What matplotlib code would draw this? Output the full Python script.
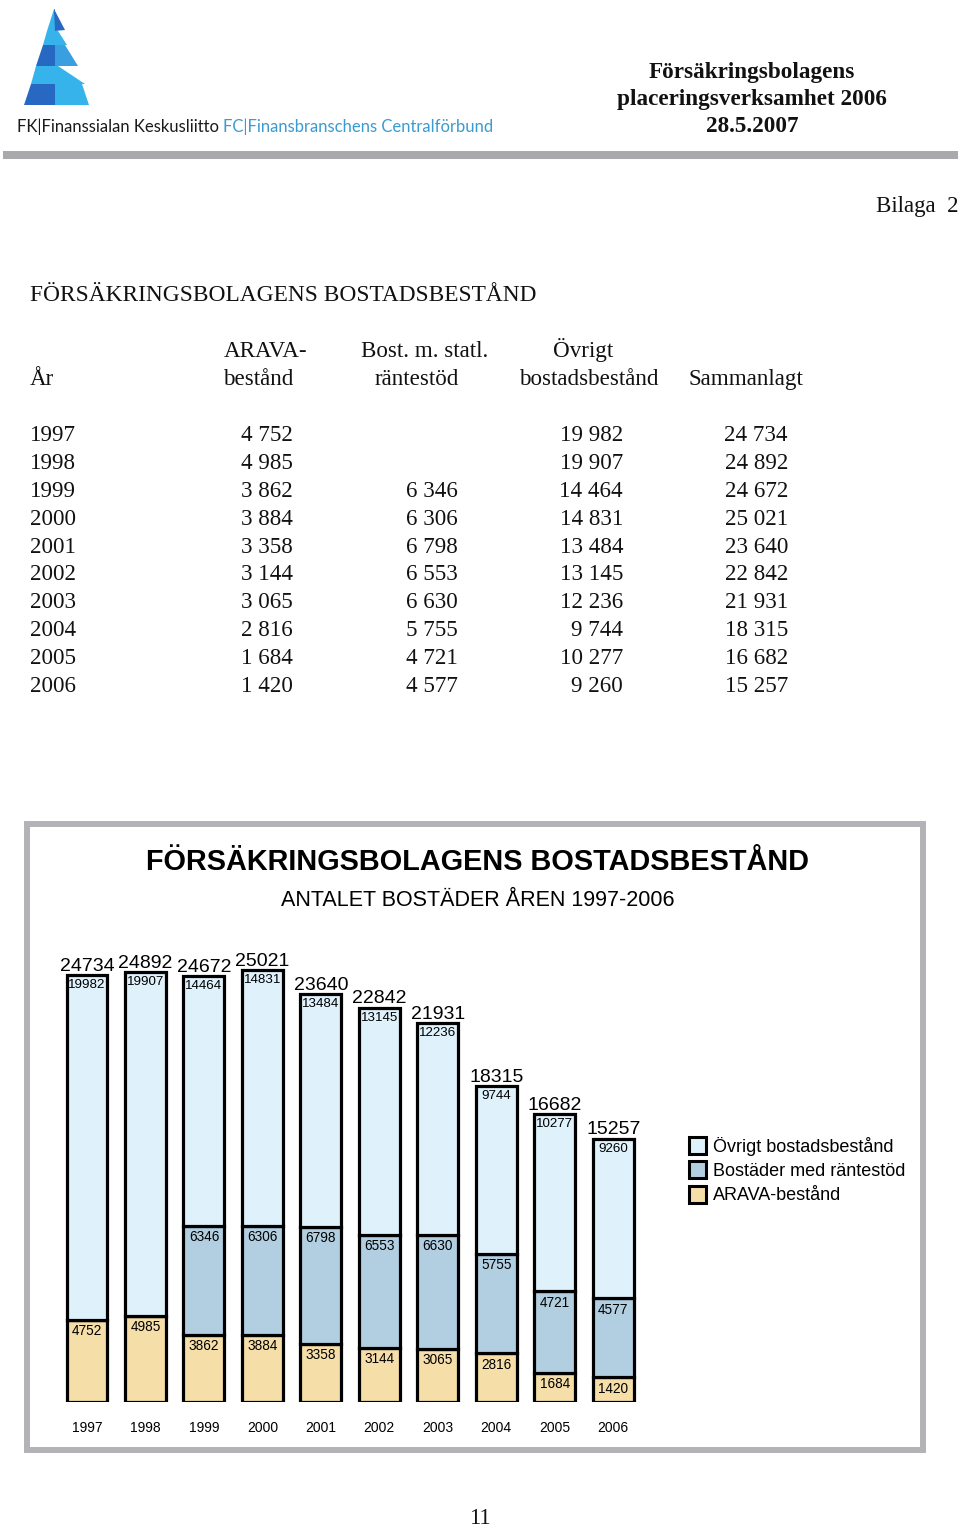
import matplotlib
matplotlib.use("Agg")
import matplotlib.pyplot as plt
from matplotlib.patches import Rectangle, Polygon

# ---------------- data ----------------
years = [1997, 1998, 1999, 2000, 2001, 2002, 2003, 2004, 2005, 2006]
arava = [4752, 4985, 3862, 3884, 3358, 3144, 3065, 2816, 1684, 1420]
rantestod = [None, None, 6346, 6306, 6798, 6553, 6630, 5755, 4721, 4577]
ovrigt = [19982, 19907, 14464, 14831, 13484, 13145, 12236, 9744, 10277, 9260]
totals = [24734, 24892, 24672, 25021, 23640, 22842, 21931, 18315, 16682, 15257]
series_labels = ["Övrigt bostadsbestånd", "Bostäder med räntestöd", "ARAVA-bestånd"]

# ---------------- style ----------------
c_ovr = "#dff1fb"
c_ran = "#b2cfe2"
c_ara = "#f6dea9"
serif = "Liberation Serif"
sans = "Liberation Sans"
ink = "#111111"

W, H = 960, 1526
fig = plt.figure(figsize=(W / 100, H / 100), dpi=100)
page = fig.add_axes([0, 0, 1, 1])
page.set_xlim(0, W)
page.set_ylim(H, 0)
page.axis("off")

# ---------------- logo ----------------
def lx(y):
    return 54 - 0.3125 * (y - 9)

SPLIT = 55
dark, cyan, mid = "#2768c2", "#36b3ea", "#3a9fe0"
stripes = [
    # (top y, bottom y, right-top x, right-bottom x, left colour, right colour)
    (9, 31, 54, 65, cyan, dark),
    (31, 45, 58, 67, cyan, cyan),
    (45, 66, 65, 78, dark, mid),
    (66, 84, 58, 85, cyan, cyan),
    (84, 105, 82, 89, dark, cyan),
]
for y0, y1, xr0, xr1, cl, cr in stripes:
    xl0, xl1 = lx(y0), lx(y1)
    if xr0 <= SPLIT:  # apex piece
        page.add_patch(Polygon([(xl0, y0), (SPLIT, y0), (SPLIT, y1), (xl1, y1)],
                               closed=True, facecolor=cl, edgecolor="none"))
        page.add_patch(Polygon([(SPLIT - 1, y0), (xr1, y1 - 1), (SPLIT, y1)],
                               closed=True, facecolor=cr, edgecolor="none"))
    else:
        page.add_patch(Polygon([(xl0, y0), (SPLIT, y0), (SPLIT, y1), (xl1, y1)],
                               closed=True, facecolor=cl, edgecolor="none"))
        page.add_patch(Polygon([(SPLIT, y0), (xr0, y0), (xr1, y1), (SPLIT, y1)],
                               closed=True, facecolor=cr, edgecolor="none"))

page.text(17, 132, "FK|Finanssialan Keskusliitto", fontsize=12, family="Lato",
          color="#1a1a1a", ha="left", va="baseline")
page.text(223, 132, "FC|Finansbranschens Centralförbund", fontsize=12, family="Lato",
          color="#3a9bd0", ha="left", va="baseline")

# header title
for txt, yb in [("Försäkringsbolagens", 78), ("placeringsverksamhet 2006", 105), ("28.5.2007", 132)]:
    page.text(752, yb, txt, fontsize=16.7, family=serif, fontweight="bold",
              ha="center", va="baseline", color=ink)

page.add_patch(Rectangle((3, 151), 955, 8, facecolor="#a9a9ab", edgecolor="none"))

page.text(958, 212, "Bilaga  2", fontsize=16.5, family=serif, ha="right", va="baseline", color=ink)

# ---------------- table ----------------
page.text(30, 301, "FÖRSÄKRINGSBOLAGENS BOSTADSBESTÅND", fontsize=16.8, family=serif,
          ha="left", va="baseline", color=ink)

headers = [
    ("ARAVA-", 224, 357), ("bestånd", 223, 385),
    ("Bost. m. statl.", 361, 357), ("räntestöd", 375, 385),
    ("Övrigt", 553, 357), ("bostadsbestånd", 519, 385),
    ("Sammanlagt", 688, 385), ("År", 30, 385),
]
for txt, x, yb in headers:
    page.text(x, yb, txt, fontsize=16.6, family=serif, ha="left", va="baseline", color=ink)


def fmt(v):
    return "" if v is None else f"{v:,}".replace(",", " ")


row0, dy = 441, 27.9
col_right = [293, 458, 623, 788]
for i, yr in enumerate(years):
    yb = row0 + i * dy
    page.text(30, yb, str(yr), fontsize=16.6, family=serif, ha="left", va="baseline", color=ink)
    for xr, vals in zip(col_right, [arava, rantestod, ovrigt, totals]):
        page.text(xr, yb, fmt(vals[i]), fontsize=16.6, family=serif, ha="right",
                  va="baseline", color=ink)

# ---------------- chart frame ----------------
page.add_patch(Rectangle((27, 824), 896, 626, facecolor="white", edgecolor="#b3b3b7",
                         linewidth=4.3))
page.text(478, 870, "FÖRSÄKRINGSBOLAGENS BOSTADSBESTÅND", fontsize=20.8, family=sans,
          fontweight="bold", ha="center", va="baseline", color="black")
page.text(478, 906, "ANTALET BOSTÄDER ÅREN 1997-2006", fontsize=15.5, family=sans,
          ha="center", va="baseline", color="black")

# ---------------- chart ----------------
ax = fig.add_axes([50 / W, (H - 1402) / H, 620 / W, 449 / H])
ax.set_zorder(2)
ax.patch.set_alpha(0)
x = list(range(len(years)))
ran0 = [0 if v is None else v for v in rantestod]
bot_ovr = [a + r for a, r in zip(arava, ran0)]
bw, lw = 0.70, 2.3
ax.bar(x, arava, width=bw, color=c_ara, edgecolor="black", linewidth=lw, label=series_labels[2])
ax.bar(x, ran0, bottom=arava, width=bw, color=c_ran, edgecolor="black", linewidth=lw,
       label=series_labels[1])
ax.bar(x, ovrigt, bottom=bot_ovr, width=bw, color=c_ovr, edgecolor="black", linewidth=lw,
       label=series_labels[0])
ax.set_xlim(-0.633, 9.971)
ax.set_ylim(0, 26000)
for s in ax.spines.values():
    s.set_visible(False)
ax.set_yticks([])
ax.set_xticks(x)
ax.set_xticklabels([str(y) for y in years], fontsize=10, family=sans)
ax.tick_params(axis="x", length=0, pad=14)

for i in x:
    ax.annotate(str(totals[i]), (i, totals[i]), xytext=(0, 3), textcoords="offset points",
                ha="center", va="baseline", fontsize=14, family=sans)
    ax.annotate(str(ovrigt[i]), (i, totals[i]), xytext=(0, -3), textcoords="offset points",
                ha="center", va="top", fontsize=9.6, family=sans)
    if rantestod[i] is not None:
        ax.annotate(str(rantestod[i]), (i, arava[i] + rantestod[i]), xytext=(0, -3),
                    textcoords="offset points", ha="center", va="top", fontsize=9.8, family=sans)
    ax.annotate(str(arava[i]), (i, arava[i]), xytext=(0, -3), textcoords="offset points",
                ha="center", va="top", fontsize=9.8, family=sans)

# legend (manual, page pixel coords)
for k, (lab, col) in enumerate(zip(series_labels, [c_ovr, c_ran, c_ara])):
    yc = 1145 + k * 24.5
    page.add_patch(Rectangle((689, yc - 8.5), 17, 17, facecolor=col, edgecolor="black", linewidth=2.2))
    page.text(713, yc + 1.5, lab, fontsize=13, family=sans, ha="left", va="center", color="black")

page.text(480, 1524, "11", fontsize=16.5, family=serif, ha="center", va="baseline", color=ink)

fig.savefig("out.png", dpi=100)
